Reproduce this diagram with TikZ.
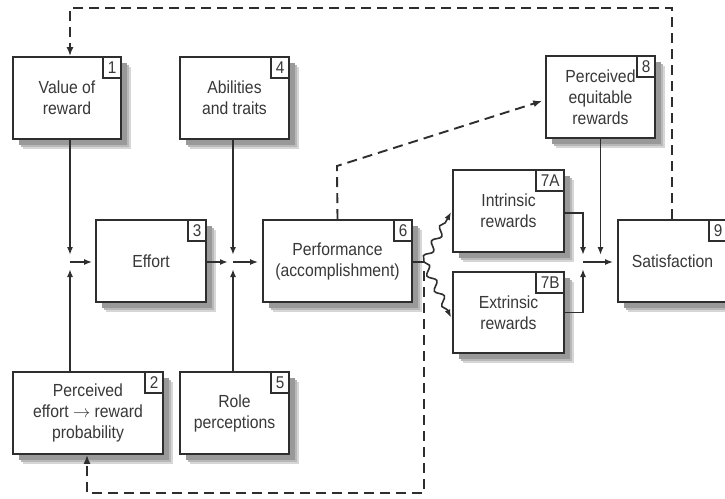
\documentclass[tikz,border=0pt]{standalone}
\usepackage{fontspec}
\setmainfont{Liberation Sans}[FakeStretch=0.9]
\usetikzlibrary{calc,arrows.meta,decorations.pathmorphing}
\definecolor{ink}{HTML}{2E2E2E}
\definecolor{txt}{HTML}{383838}
% framed box with a soft offset shadow: name, x, y, width, height, text
\newcommand\pbox[6]{%
  \pgfmathsetmacro\lx{#2-#4/2}\pgfmathsetmacro\rx{#2+#4/2}%
  \pgfmathsetmacro\ty{#3-#5/2}\pgfmathsetmacro\by{#3+#5/2}%
  \fill[black!16] (\lx+10,\ty+10) rectangle (\rx+10,\by+10);
  \fill[black!28] (\lx+8,\ty+8) rectangle (\rx+8,\by+8);
  \fill[black!40] (\lx+6,\ty+6) rectangle (\rx+6,\by+6);
  \node[box, minimum width=#4, minimum height=#5] (#1) at (#2,#3) {#6};}
\begin{document}
\begin{tikzpicture}[x=1pt,y=-1pt,
  box/.style={draw=ink, line width=1.8pt, fill=white, align=center,
    text=txt, font=\fontsize{17.5}{21}\selectfont, inner sep=2pt},
  numbox/.style={draw=ink, line width=1.6pt, fill=white, text=txt,
    font=\fontsize{17}{17}\selectfont, minimum height=21pt,
    minimum width=18pt, inner sep=1pt, anchor=north east},
  ln/.style={draw=ink, line width=1.6pt},
  arr/.style={ln, -{Latex[length=8pt,width=6pt]}},
  dsh/.style={draw=ink, line width=1.9pt, dash pattern=on 10pt off 6pt},
  wavy/.style={arr, decorate, decoration={snake, amplitude=3.5pt,
    segment length=17pt, post length=5pt}}]
\path[use as bounding box] (0,0) rectangle (725,498);
\fill[white] (0,0) rectangle (725,498);

% boxes
\pbox{b1}{67}{98}{108}{82}{Value of\\reward}
\pbox{b4}{234.5}{98}{109}{82}{Abilities\\and traits}
\pbox{b3}{151}{261}{110}{82}{Effort}
\pbox{b6}{337.5}{261}{149}{82}{Performance\\(accomplishment)}
\pbox{b2}{88}{413}{150}{82}{Perceived\\effort $\rightarrow$ reward\\probability}
\pbox{b5}{234.5}{413}{109}{82}{Role\\perceptions}
\pbox{b7a}{508.5}{211}{111}{82}{Intrinsic\\rewards}
\pbox{b7b}{508.5}{312.5}{111}{81}{Extrinsic\\rewards}
\pbox{b8}{600.5}{97}{109}{82}{Perceived\\equitable\\rewards}
\pbox{b9}{672.5}{261}{109}{82}{Satisfaction}

% box numbers
\node[numbox] (n1) at (b1.north east) {1};
\node[numbox] (n2) at (b2.north east) {2};
\node[numbox] (n3) at (b3.north east) {3};
\node[numbox] (n4) at (b4.north east) {4};
\node[numbox] (n5) at (b5.north east) {5};
\node[numbox] (n6) at (b6.north east) {6};
\node[numbox, minimum width=28pt] (n7a) at (b7a.north east) {7A};
\node[numbox, minimum width=28pt] (n7b) at (b7b.north east) {7B};
\node[numbox] (n8) at (b8.north east) {8};
\node[numbox] (n9) at (b9.north east) {9};

% junction points
\coordinate (j1) at (70,262);
\coordinate (j2) at (233,262);
\coordinate (j3) at (583,262);
\coordinate (w) at (424,262);

% effort inputs
\draw[arr] (b1.south -| j1) -- ($(j1)+(0,-7)$);
\draw[arr] (b2.north -| j1) -- ($(j1)+(0,7)$);
\draw[arr, shorten >=3pt] (j1) -- (j1 -| b3.west);

% performance inputs
\draw[arr] (b3.east |- j2) -- ($(j2)+(-5,0)$);
\draw[arr] (b4.south -| j2) -- ($(j2)+(0,-7)$);
\draw[arr] (b5.north -| j2) -- ($(j2)+(0,7)$);
\draw[arr, shorten >=4pt] (j2) -- (j2 -| b6.west);

% rewards
\draw[ln] (b6.east |- w) -- (w);
\draw[wavy] (w) -- ($(b7a.west)+(-1,1)$);
\draw[wavy] (w) -- ($(b7b.west)+(-1,5)$);

% satisfaction inputs
\draw[arr] ($(b7a.east)+(0,2)$) -| ($(j3)+(0,-7)$);
\draw[arr] (b7b.east) -| ($(j3)+(0,7)$);
\draw[arr] (b8.south) -- (b8.south |- {$(j3)+(0,-7)$});
\draw[arr, shorten >=4pt] (j3) -- (j3 -| b9.west);

% dashed feedback loops
\draw[dsh, -{Latex[length=9pt,width=7pt]}, shorten >=3pt]
  (b6.north) -- (337,166) -- ($(b8.west)+(0,3)$);
\draw[dsh, -{Latex[length=9pt,width=7pt]}]
  ($(w)+(0,9)$) -- (424,493) -- (87,493) -- (b2.south -| 87,0);
\draw[dsh, -{Latex[length=9pt,width=7pt]}]
  (b9.north -| 672,0) -- (672,8) -- (70,8) -- (b1.north -| 70,0);
\end{tikzpicture}
\end{document}
